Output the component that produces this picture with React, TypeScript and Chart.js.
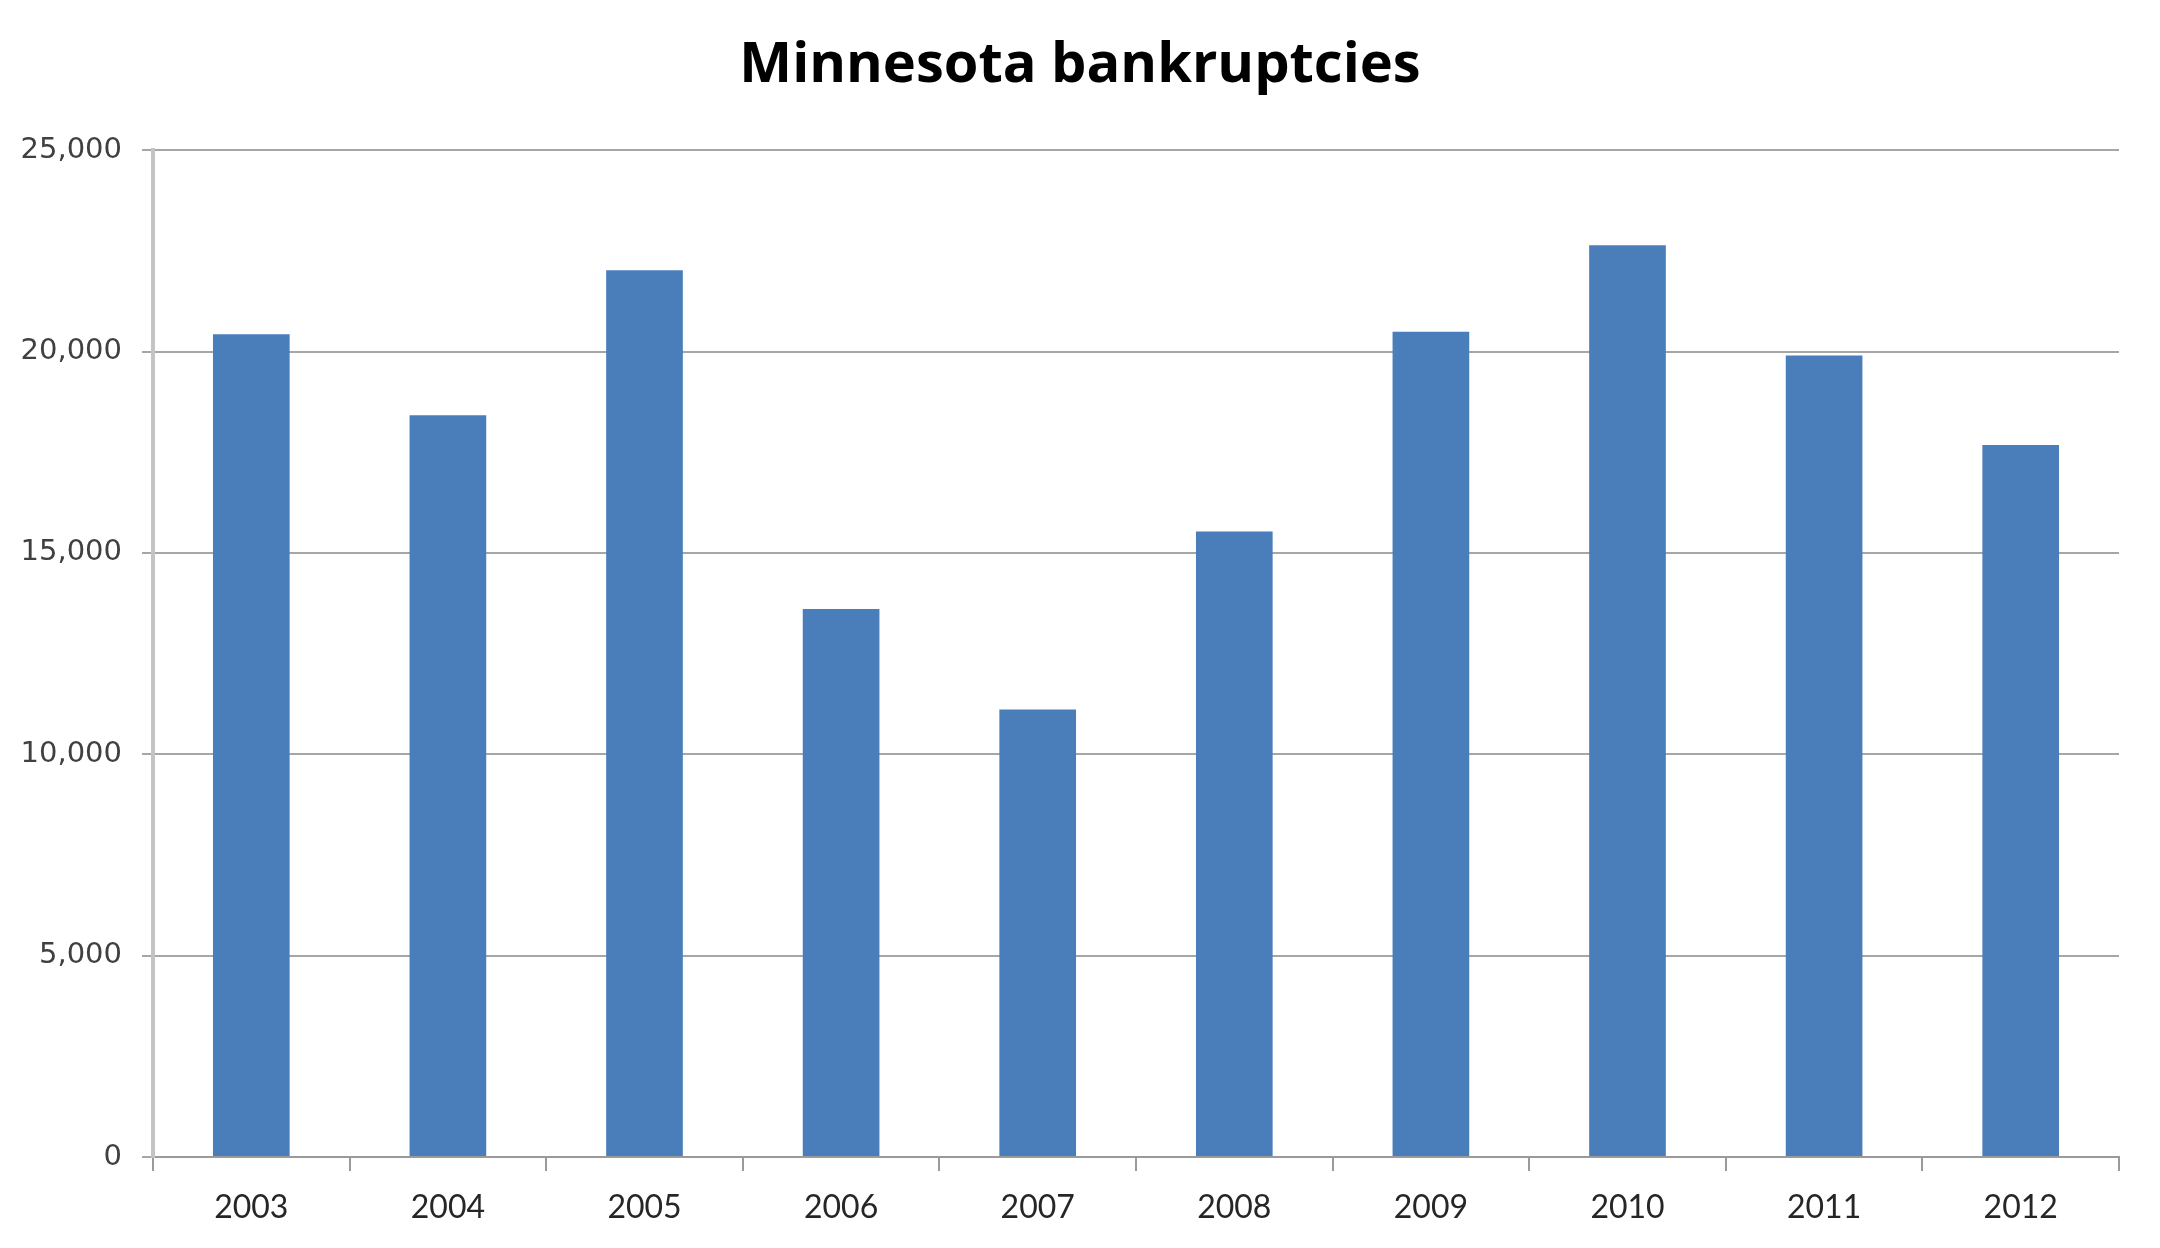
import React, { useEffect, useRef } from "react";
import { Chart, registerables } from "chart.js";

Chart.register(...registerables);

const title = "Minnesota bankruptcies";
const years = ["2003", "2004", "2005", "2006", "2007", "2008", "2009", "2010", "2011", "2012"];
const bankruptcies = [20430, 18420, 22020, 13610, 11110, 15530, 20490, 22640, 19900, 17680];
const yMin = 0;
const yMax = 25000;
const yStep = 5000;

const W = 2160;
const H = 1248;

export default function App() {
  const ref = useRef<HTMLCanvasElement | null>(null);

  useEffect(() => {
    document.body.style.margin = "0";
    const canvas = ref.current;
    if (!canvas) return;
    const chart = new Chart(canvas, {
      type: "bar",
      data: {
        labels: years,
        datasets: [
          {
            label: "Bankruptcies",
            data: bankruptcies,
            backgroundColor: "#4a7ebb",
            borderWidth: 0,
            barPercentage: 0.39,
            categoryPercentage: 1,
          },
        ],
      },
      options: {
        responsive: false,
        animation: false,
        devicePixelRatio: 1,
        layout: { padding: 0 },
        plugins: {
          legend: { display: false },
          tooltip: { enabled: false },
          title: {
            display: true,
            text: title,
            color: "#000000",
            font: { family: "Open Sans", size: 56, weight: "bold", lineHeight: 1.2 },
            padding: { top: 32, bottom: 51 },
          },
        },
        scales: {
          x: {
            grid: {
              offset: true,
              drawOnChartArea: false,
              drawTicks: true,
              tickLength: 14,
              color: "#9a9a9a",
              lineWidth: 2,
            },
            border: { display: true, color: "#9a9a9a", width: 2 },
            ticks: {
              color: "#262626",
              font: { family: "Lato", size: 32 },
              padding: 17,
              maxRotation: 0,
            },
            afterFit: (scale: any) => {
              scale.height = H - 1157;
            },
          },
          y: {
            min: yMin,
            max: yMax,
            ticks: {
              stepSize: yStep,
              color: "#404040",
              font: { family: "DejaVu Sans", size: 29 },
              padding: 20,
            },
            grid: {
              color: "#a6a6a6",
              lineWidth: 2,
              tickLength: 11,
              drawTicks: true,
            },
            border: { display: true, color: "#c4c4c4", width: 4 },
            afterFit: (scale: any) => {
              scale.width = 153;
            },
          },
          spacer: {
            type: "linear",
            position: "right",
            display: true,
            grid: { display: false, drawTicks: false },
            border: { display: false },
            ticks: { display: false },
            afterFit: (scale: any) => {
              scale.width = 41;
            },
          },
        },
      },
    });
    return () => chart.destroy();
  }, []);

  return (
    <div style={{ position: "absolute", left: 0, top: 0, width: W, height: H, background: "#ffffff" }}>
      <canvas ref={ref} width={W} height={H} style={{ display: "block", width: W, height: H }} />
    </div>
  );
}
